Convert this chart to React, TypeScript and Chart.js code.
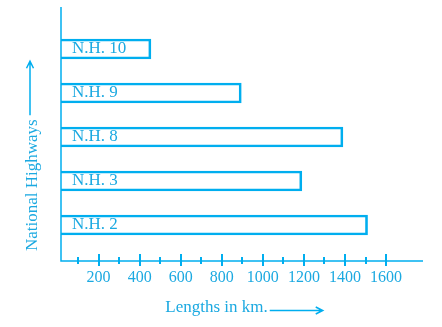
import React, { useEffect, useRef } from "react";
import { Chart, registerables } from "chart.js";

Chart.register(...registerables);

const categories = ["N.H. 2", "N.H. 3", "N.H. 8", "N.H. 9", "N.H. 10"];
const lengths = [1510, 1190, 1390, 895, 455];
const tickValues = [100, 200, 300, 400, 500, 600, 700, 800, 900, 1000, 1100, 1200, 1300, 1400, 1500, 1600];
const majorTicks = [200, 400, 600, 800, 1000, 1200, 1400, 1600];
const xTitle = "Lengths in km.";
const yTitle = "National Highways";

const LINE = "#00AEEF";
const TEXT = "#1BA9E1";
const FONT = '"Liberation Serif", "Times New Roman", serif';

const decor = {
  id: "decor",
  afterDatasetsDraw(chart: any) {
    const { ctx, chartArea } = chart;
    const xs = chart.scales.x;
    const ys = chart.scales.y;
    ctx.save();
    ctx.strokeStyle = LINE;
    ctx.fillStyle = TEXT;
    // axis lines
    ctx.lineWidth = 1.5;
    ctx.beginPath();
    ctx.moveTo(chartArea.left, chartArea.top);
    ctx.lineTo(chartArea.left, chartArea.bottom);
    ctx.lineTo(chartArea.right, chartArea.bottom);
    ctx.stroke();
    // tick marks crossing the axis
    ctx.lineWidth = 2;
    tickValues.forEach((v) => {
      const px = Math.round(xs.getPixelForValue(v));
      const major = majorTicks.includes(v);
      ctx.beginPath();
      ctx.moveTo(px, chartArea.bottom - (major ? 7 : 4));
      ctx.lineTo(px, chartArea.bottom + (major ? 5 : 3));
      ctx.stroke();
    });
    // bar labels
    ctx.font = `17px ${FONT}`;
    ctx.textAlign = "left";
    ctx.textBaseline = "middle";
    categories.forEach((c, i) => {
      ctx.fillText(c, chartArea.left + 11, ys.getPixelForValue(i) - 0.5);
    });
    // x title + arrow
    ctx.textBaseline = "alphabetic";
    const tw = ctx.measureText(xTitle).width;
    const groupW = tw + 2 + 53;
    const cx = (chartArea.left + chartArea.right) / 2 + 2;
    const sx = cx - groupW / 2;
    const ty = chartArea.bottom + 51;
    ctx.fillText(xTitle, sx, ty);
    ctx.lineWidth = 1.5;
    const ax0 = sx + tw + 2;
    const ax1 = ax0 + 53;
    const ay = ty - 1.5;
    ctx.beginPath();
    ctx.moveTo(ax0, ay);
    ctx.lineTo(ax1, ay);
    ctx.moveTo(ax1 - 7, ay - 3.5);
    ctx.lineTo(ax1, ay);
    ctx.lineTo(ax1 - 7, ay + 3.5);
    ctx.stroke();
    // y title + arrow
    const yStart = chartArea.bottom - 10;
    ctx.save();
    ctx.translate(37, yStart);
    ctx.rotate(-Math.PI / 2);
    ctx.fillText(yTitle, 0, 0);
    const yw = ctx.measureText(yTitle).width;
    ctx.restore();
    const bx = 30;
    const by0 = yStart - yw - 4;
    const by1 = by0 - 54;
    ctx.beginPath();
    ctx.moveTo(bx, by0);
    ctx.lineTo(bx, by1);
    ctx.moveTo(bx - 3.5, by1 + 7);
    ctx.lineTo(bx, by1);
    ctx.lineTo(bx + 3.5, by1 + 7);
    ctx.stroke();
    ctx.restore();
  },
};

export default function App() {
  const ref = useRef<HTMLCanvasElement>(null);
  useEffect(() => {
    if (!ref.current) return;
    const chart = new Chart(ref.current, {
      type: "bar",
      data: {
        datasets: [
          {
            data: lengths.map((v, i) => ({ x: v, y: i })),
            backgroundColor: "rgba(0,0,0,0)",
            borderColor: LINE,
            borderWidth: 2,
            borderSkipped: false,
            barThickness: 20,
          },
        ],
      },
      options: {
        indexAxis: "y",
        animation: false,
        responsive: false,
        events: [],
        layout: { padding: { top: 7, left: 61, right: 19, bottom: 0 } },
        plugins: { legend: { display: false }, tooltip: { enabled: false }, title: { display: false } },
        scales: {
          x: {
            type: "linear",
            min: 17,
            max: 1780,
            offset: false,
            grid: { display: false, drawTicks: false },
            border: { display: false },
            afterBuildTicks: (axis: any) => {
              axis.ticks = tickValues.map((v) => ({ value: v }));
            },
            afterFit: (axis: any) => {
              axis.height = 66;
            },
            ticks: {
              autoSkip: false,
              maxRotation: 0,
              padding: 7,
              color: TEXT,
              font: { family: FONT, size: 16 },
              callback: (v: any) => (majorTicks.includes(Number(v)) ? String(v) : ""),
            },
          },
          y: {
            type: "linear",
            min: -0.818,
            max: 4.955,
            offset: false,
            display: false,
          },
        },
      },
      plugins: [decor],
    } as any);
    return () => chart.destroy();
  }, []);
  return (
    <div style={{ position: "absolute", left: 0, top: 0, width: 442, height: 327, background: "#fff" }}>
      <canvas ref={ref} width={442} height={327} style={{ display: "block" }} />
    </div>
  );
}
